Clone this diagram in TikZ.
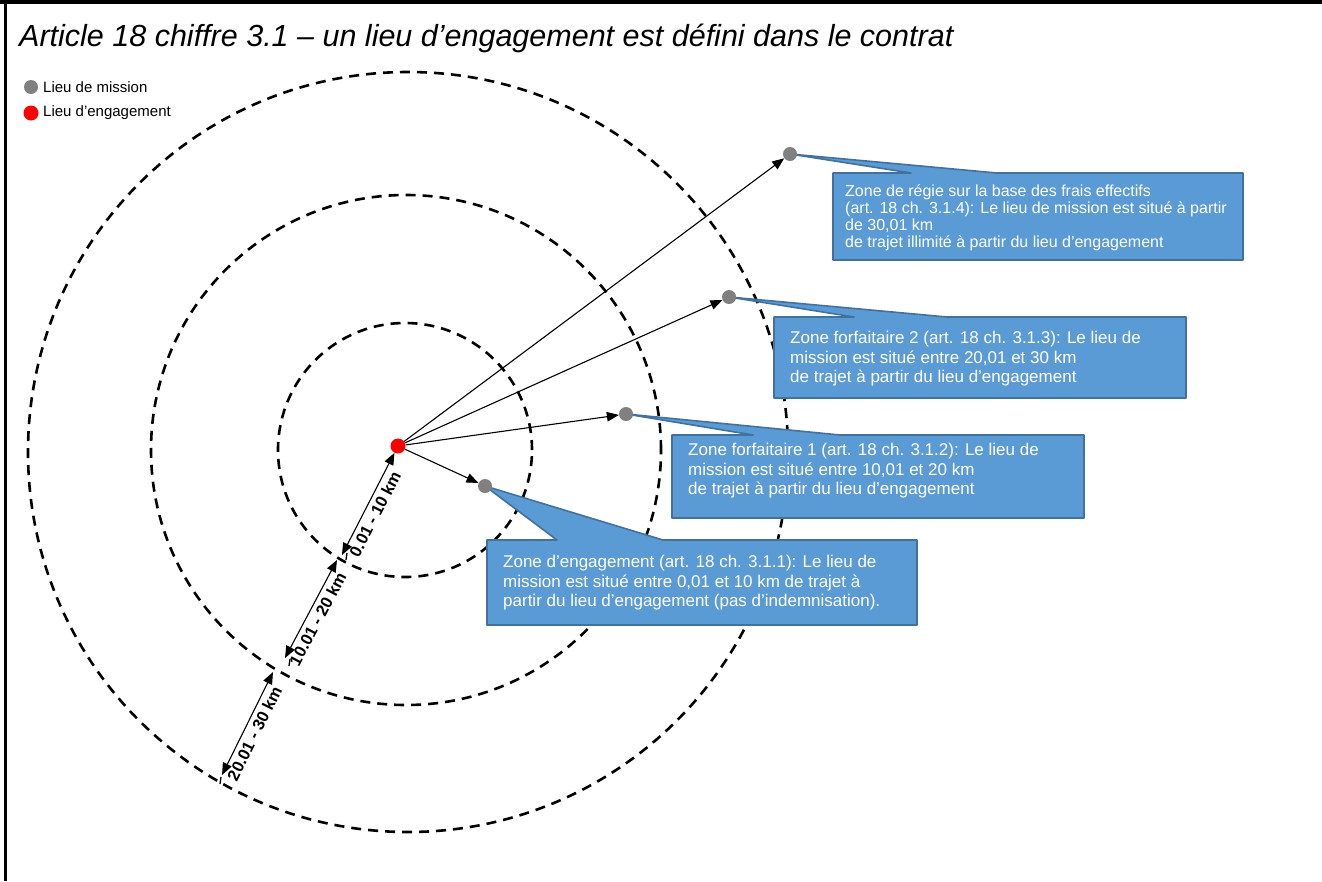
\documentclass[tikz,border=0pt]{standalone}
\usepackage{fontspec}
\setmainfont{Liberation Sans}
\usepackage{tikz}
\usetikzlibrary{arrows.meta,calc}

\definecolor{zoneblue}{RGB}{91,155,213}
\definecolor{zoneedge}{RGB}{65,113,156}
\definecolor{missiongray}{RGB}{128,128,128}

\begin{document}
\begin{tikzpicture}[x=1pt, y=-1pt,
    ringline/.style={draw=black, line width=2.6pt, dash pattern=on 10pt off 7pt},
    missiondot/.style={circle, fill=missiongray, inner sep=0pt, minimum size=14pt},
    hubdot/.style={circle, fill=red, inner sep=0pt, minimum size=15pt},
    routearrow/.style={draw=black, line width=1.1pt, -{Triangle[length=12pt,width=9.5pt]}},
    spanarrow/.style={draw=black, line width=1.1pt,
                      {Triangle[length=12pt,width=9.5pt]}-{Triangle[length=12pt,width=9.5pt]}},
    spanlabel/.style={font=\fontsize{16.5}{20}\selectfont\bfseries, sloped, below, inner sep=4pt},
    spantick/.style={draw=black, line width=1.3pt},
    zonebox/.style={fill=zoneblue, draw=zoneedge, line width=1.6pt, line join=round},
    zonetext/.style={font=\fontsize{17}{19.5}\selectfont, text=white, align=left,
                     anchor=north west, inner sep=0pt},
    legendtext/.style={font=\fontsize{15}{18}\selectfont, anchor=west, inner sep=0pt}
]
\useasboundingbox (0,0) rectangle (1322,881);

% Callout: #1=dot, #2/#3=top left, #4/#5=bottom right, #6/#7=pointer base
\newcommand{\zonecallout}[7]{%
    \filldraw[zonebox] (#2,#3) -- (#6,#3) -- (#1) -- (#7,#3) -- (#4,#3)
        -- (#4,#5) -- (#2,#5) -- cycle;
}

% Frame
\draw[line width=3.5pt] (0,2) -- (1322,2);
\draw[line width=3pt] (5,0) -- (5,881);

% Title
\node[font=\fontsize{30.5}{36}\selectfont\itshape, anchor=base west, inner sep=0pt]
    (title) at (19,46)
    {Article 18 chiffre 3.1 – un lieu d’engagement est défini dans le contrat};

% Legend
\node[missiondot] (legmission) at (31,87) {};
\node[legendtext] (legmissiontxt) at (43,87) {Lieu de mission};
\node[hubdot] (leghub) at (31,113) {};
\node[legendtext] (leghubtxt) at (43,113) {Lieu d’engagement};

% Distance rings
\draw[ringline] (405,450) circle[radius=127pt];
\draw[ringline] (406,450) circle[radius=255pt];
\draw[ringline] (408,452) circle[radius=380pt];

% Places
\coordinate (p0) at (398,446);
\coordinate (p1) at (790,154);
\coordinate (p2) at (729,297);
\coordinate (p3) at (626,414);
\coordinate (p4) at (485,486);

% Zone callouts
\zonecallout{p1}{833}{173}{1243}{260}{911}{997}
\zonecallout{p2}{774}{317}{1186}{398}{854}{947}
\zonecallout{p3}{672}{435}{1084}{518}{753}{840}
\zonecallout{p4}{487}{540}{917}{625}{557}{663}

\node[zonetext, font=\fontsize{16}{17}\selectfont] (z1) at (845,185)
    {Zone de régie sur la base des frais effectifs\\
     (art. 18 ch. 3.1.4): Le lieu de mission est situé à partir\\
     de 30,01 km\\
     de trajet illimité à partir du lieu d’engagement};
\node[zonetext] (z2) at (790,331)
    {Zone forfaitaire 2 (art. 18 ch. 3.1.3): Le lieu de\\
     mission est situé entre 20,01 et 30 km\\
     de trajet à partir du lieu d’engagement};
\node[zonetext] (z3) at (688,443)
    {Zone forfaitaire 1 (art. 18 ch. 3.1.2): Le lieu de\\
     mission est situé entre 10,01 et 20 km\\
     de trajet à partir du lieu d’engagement};
\node[zonetext] (z4) at (503,555)
    {Zone d’engagement (art. 18 ch. 3.1.1): Le lieu de\\
     mission est situé entre 0,01 et 10 km de trajet à\\
     partir du lieu d’engagement (pas d’indemnisation).};

% Dots
\node[hubdot] (hub) at (p0) {};
\node[missiondot] (m1) at (p1) {};
\node[missiondot] (m2) at (p2) {};
\node[missiondot] (m3) at (p3) {};
\node[missiondot] (m4) at (p4) {};

\draw[routearrow] (hub) -- (m1);
\draw[routearrow] (hub) -- (m2);
\draw[routearrow] (hub) -- (m3);
\draw[routearrow] (hub) -- (m4);

% Distance scale
\coordinate (d1) at (342,555);
\coordinate (d2) at (337,560);
\coordinate (d3) at (285,658);
\coordinate (d4) at (273,672);
\coordinate (d5) at (222,775);

\draw[spanarrow] (d1) -- node[spanlabel, pos=0.45] {0.01 - 10 km} (hub);
\draw[spanarrow] (d3) -- node[spanlabel, pos=0.45] {10.01 - 20 km} (d2);
\draw[spanarrow] (d5) -- node[spanlabel, pos=0.45] {20.01 - 30 km} (d4);

\draw[spantick] (347,553) -- (346,560);
\draw[spantick] (290,659) -- (289,666);
\draw[spantick] (221,777) -- (220,784);

\end{tikzpicture}
\end{document}
